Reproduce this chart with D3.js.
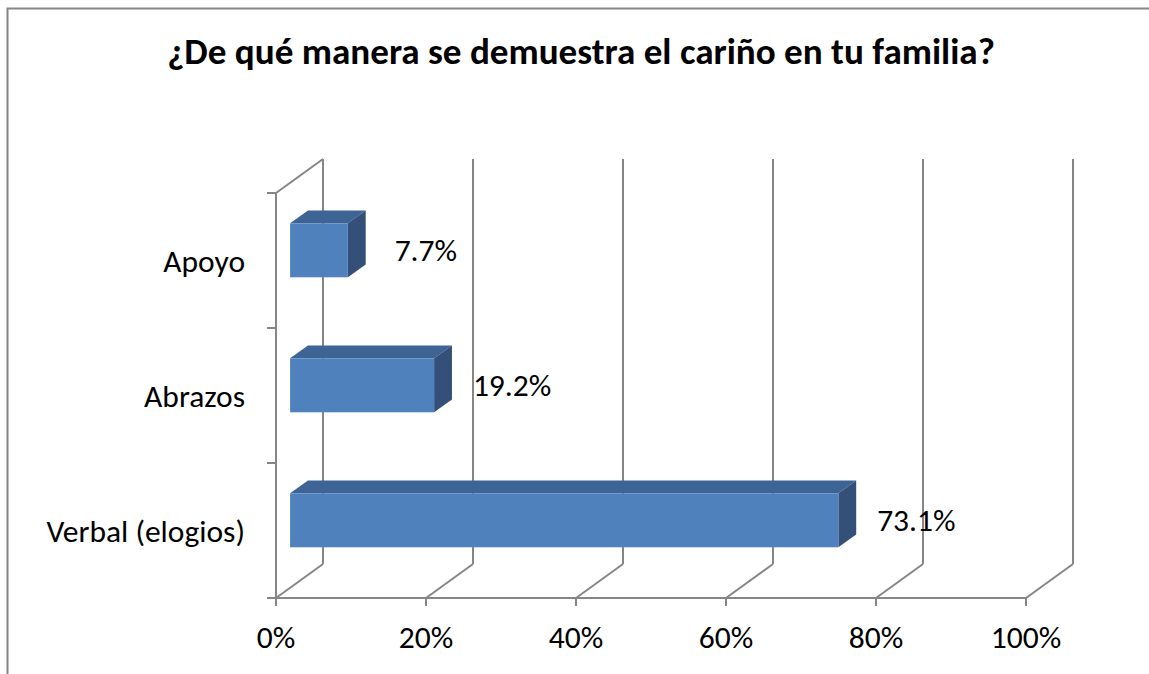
<!DOCTYPE html>
<html lang="es">
<head>
  <meta charset="UTF-8">
  <title>Cariño en la familia</title>
  <style>
    body {
      margin: 0;
      background: #fff;
      overflow: hidden;
    }
    svg text {
      font-family: Calibri, Carlito, Lato, "Liberation Sans", sans-serif;
      fill: #000;
    }
  </style>
</head>
<body>
  <svg id="chart"></svg>

  <script src="https://d3js.org/d3.v7.min.js"></script>
  <script>
    // data
    const title = "¿De qué manera se demuestra el cariño en tu familia?";
    const categories = ["Apoyo", "Abrazos", "Verbal (elogios)"];
    const values = [0.077, 0.192, 0.731];
    const valueLabels = ["7.7%", "19.2%", "73.1%"];
    const ticks = [0, 0.2, 0.4, 0.6, 0.8, 1];

    const W = 1149, H = 674;
    const svg = d3.select("#chart").attr("width", W).attr("height", H);

    // 3d depth of the plot box
    const DX = 47, DY = -34;
    const grid = "#868686";
    const fs = "31.5px";

    const x = d3.scaleLinear().domain([0, 1]).range([276, 1026]);
    const y = d3.scaleBand().domain(categories).range([193, 598]);
    const floorY = y.range()[1], topY = y.range()[0];

    // chart border
    svg.append("rect")
      .attr("x", 7.5).attr("y", 8.5)
      .attr("width", W).attr("height", H)
      .attr("fill", "none")
      .attr("stroke", grid)
      .attr("stroke-width", 2);

    // title, fitted to the width it has in the picture
    const t = svg.append("text")
      .attr("x", 581).attr("y", 64)
      .attr("text-anchor", "middle")
      .style("font-weight", "bold")
      .style("font-size", "32px")
      .text(title);
    const tw = t.node().getComputedTextLength();
    t.style("font-size", (32 * 828 / tw) + "px");

    const g = svg.append("g")
      .attr("stroke", grid)
      .attr("stroke-width", 2)
      .attr("fill", "none");

    // back wall gridlines and floor diagonals
    ticks.forEach(v => {
      g.append("line")
        .attr("x1", x(v) + DX).attr("y1", floorY + DY)
        .attr("x2", x(v) + DX).attr("y2", topY + DY);
      g.append("line")
        .attr("x1", x(v)).attr("y1", floorY)
        .attr("x2", x(v) + DX).attr("y2", floorY + DY);
      g.append("line")
        .attr("x1", x(v)).attr("y1", floorY)
        .attr("x2", x(v)).attr("y2", floorY + 8);
    });

    // left wall
    g.append("line")
      .attr("x1", x(0)).attr("y1", topY)
      .attr("x2", x(0)).attr("y2", floorY);
    g.append("line")
      .attr("x1", x(0)).attr("y1", topY)
      .attr("x2", x(0) + DX).attr("y2", topY + DY);

    // front floor edge
    g.append("line")
      .attr("x1", x(0) - 9).attr("y1", floorY)
      .attr("x2", x(1)).attr("y2", floorY);

    // category ticks
    [topY].concat(categories.map(c => y(c) + y.bandwidth())).forEach(yy => {
      g.append("line")
        .attr("x1", x(0) - 9).attr("y1", yy)
        .attr("x2", x(0)).attr("y2", yy);
    });

    // x tick labels
    svg.selectAll(".xt")
      .data(ticks)
      .enter()
      .append("text")
      .attr("class", "xt")
      .attr("x", d => x(d))
      .attr("y", 648)
      .attr("text-anchor", "middle")
      .style("font-size", fs)
      .text(d3.format(".0%"));

    // category labels
    svg.selectAll(".cat")
      .data(categories)
      .enter()
      .append("text")
      .attr("class", "cat")
      .attr("x", 245)
      .attr("y", d => y(d) + y.bandwidth() / 2 + 11)
      .attr("text-anchor", "end")
      .style("font-size", fs)
      .text(d => d);

    // bars: front face sits 0.3 into the depth, bar is 0.38 deep
    const offX = DX * 0.3, offY = DY * 0.3;
    const bdx = DX * 0.38, bdy = DY * 0.38;
    const barH = y.bandwidth() * 0.4;

    const bars = svg.selectAll(".bar")
      .data(categories.map((c, i) => ({ c, v: values[i], label: valueLabels[i] })))
      .enter()
      .append("g")
      .attr("class", "bar");

    const pos = d => {
      const x1 = x(0) + offX, x2 = x(d.v) + offX;
      const cy = y(d.c) + y.bandwidth() / 2 + offY;
      return { x1, x2, y1: cy - barH / 2, y2: cy + barH / 2, cy };
    };

    bars.append("path")
      .attr("fill", "#3e6495")
      .attr("d", d => {
        const p = pos(d);
        return `M${p.x1},${p.y1}L${p.x1 + bdx},${p.y1 + bdy}L${p.x2 + bdx},${p.y1 + bdy}L${p.x2},${p.y1}Z`;
      });

    bars.append("path")
      .attr("fill", "#344f78")
      .attr("d", d => {
        const p = pos(d);
        return `M${p.x2},${p.y1}L${p.x2 + bdx},${p.y1 + bdy}L${p.x2 + bdx},${p.y2 + bdy}L${p.x2},${p.y2}Z`;
      });

    bars.append("rect")
      .attr("fill", "#4f81bd")
      .attr("x", d => pos(d).x1)
      .attr("y", d => pos(d).y1)
      .attr("width", d => pos(d).x2 - pos(d).x1)
      .attr("height", barH);

    bars.append("text")
      .attr("x", d => pos(d).x2 + 78)
      .attr("y", d => pos(d).cy + 11)
      .attr("text-anchor", "middle")
      .style("font-size", fs)
      .text(d => d.label);
  </script>
</body>
</html>
